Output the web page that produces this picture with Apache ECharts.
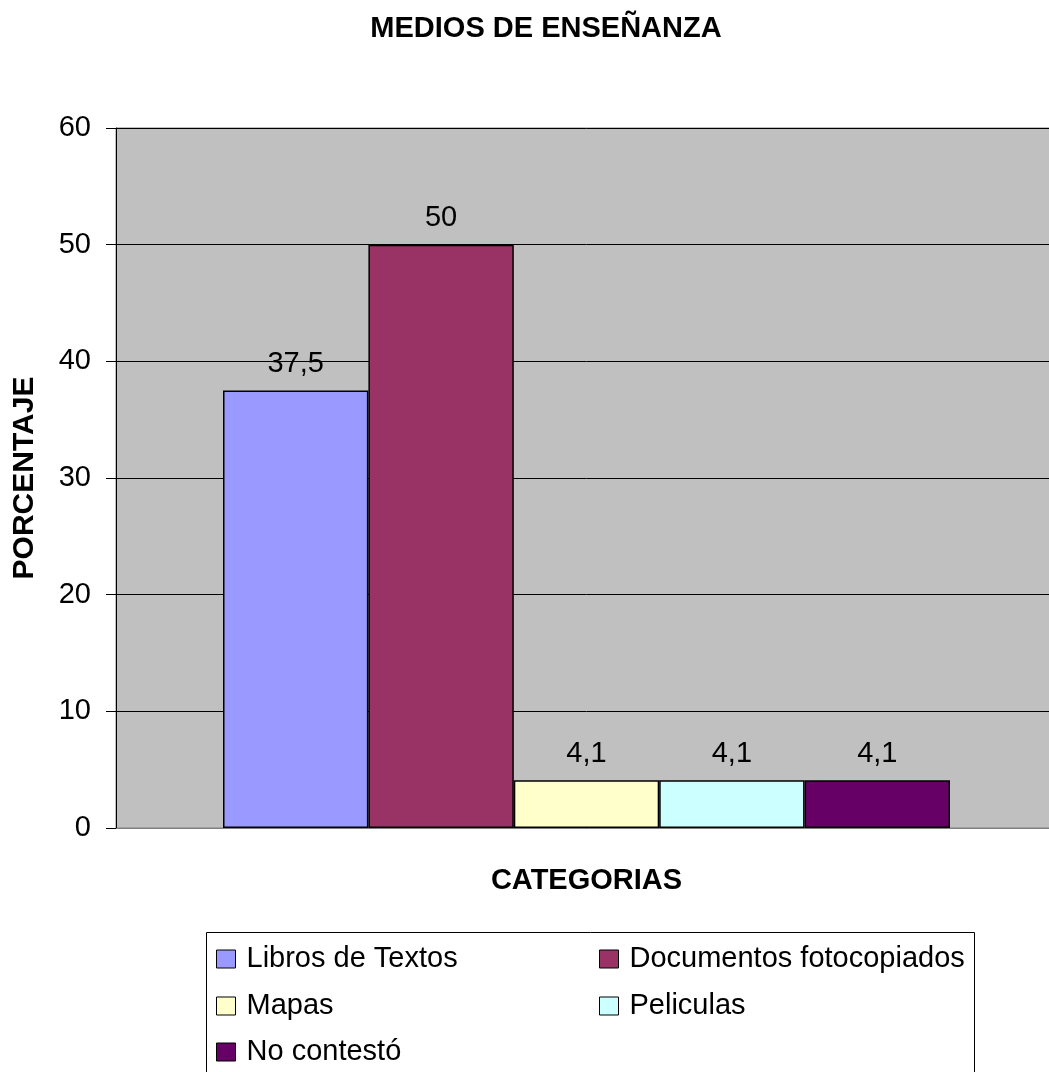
<!DOCTYPE html>
<html>
<head>
<meta charset="utf-8">
<title>Medios de enseñanza</title>
<script src="https://cdn.jsdelivr.net/npm/echarts@6/dist/echarts.min.js"></script>
<style>
  html, body { margin: 0; padding: 0; background: #fff; overflow: hidden; }
  /* the plot area runs a little past the right edge of the picture */
  #chart { width: 1057px; height: 1072px; }
</style>
</head>
<body>
<div id="chart"></div>
<script>
// data
var categories = ['']
var seriesNames = ['Libros de Textos', 'Documentos fotocopiados', 'Mapas', 'Peliculas', 'No contestó']
var seriesValues = [37.5, 50, 4.1, 4.1, 4.1]
var seriesColors = ['#9999FF', '#993366', '#FFFFCC', '#CCFFFF', '#660066']
var yTicks = [0, 10, 20, 30, 40, 50, 60]

var font = 'Liberation Sans, Arial, sans-serif'

// legend slots: two columns, three rows (like the excel box)
var legendCols = [216, 599]
var legendRows = [944, 991, 1037]

var chart = echarts.init(document.getElementById('chart'))

var series = seriesNames.map(function (name, i) {
  return {
    name: name,
    type: 'bar',
    barGap: '0%',
    barWidth: 145.4,
    itemStyle: { color: seriesColors[i], borderColor: '#000', borderWidth: 1.5 },
    label: {
      show: true,
      position: 'top',
      distance: 12,
      color: '#000',
      fontFamily: font,
      fontSize: 29,
      formatter: function (p) { return String(p.value).replace('.', ',') }
    },
    data: [seriesValues[i]]
  }
})

var legends = seriesNames.map(function (name, i) {
  return {
    left: legendCols[i % 2],
    top: legendRows[Math.floor(i / 2)],
    padding: 0,
    icon: 'rect',
    itemWidth: 19,
    itemHeight: 18,
    itemStyle: { borderColor: '#000', borderWidth: 1 },
    textStyle: { fontFamily: font, fontSize: 29, color: '#000', lineHeight: 30, padding: [0, 0, 0, 6] },
    data: [name]
  }
})

chart.setOption({
  animation: false,
  title: {
    text: 'MEDIOS DE ENSEÑANZA',
    left: 541,
    textAlign: 'center',
    top: 9,
    textStyle: { fontFamily: font, fontSize: 29, fontWeight: 'bold', color: '#000' }
  },
  grid: {
    left: 116,
    right: 0,
    top: 128,
    bottom: 244,
    show: true,
    backgroundColor: '#C0C0C0',
    borderColor: '#808080',
    borderWidth: 1
  },
  legend: legends,
  graphic: [
    {
      type: 'rect',
      shape: { x: 206.5, y: 932.5, width: 768, height: 200 },
      style: { fill: 'none', stroke: '#000', lineWidth: 1 },
      silent: true
    }
  ],
  xAxis: {
    type: 'category',
    data: categories,
    name: 'CATEGORIAS',
    nameLocation: 'middle',
    nameGap: 38,
    nameTextStyle: { fontFamily: font, fontSize: 29, fontWeight: 'bold', color: '#000' },
    axisLine: { show: true, lineStyle: { color: '#808080', width: 1 } },
    axisTick: { show: false },
    axisLabel: { show: false }
  },
  yAxis: {
    type: 'value',
    min: 0,
    max: 60,
    interval: 10,
    name: 'PORCENTAJE',
    nameLocation: 'middle',
    nameGap: 76,
    nameTextStyle: { fontFamily: font, fontSize: 30, fontWeight: 'bold', color: '#000' },
    axisLine: { show: true, lineStyle: { color: '#000', width: 1 } },
    axisTick: { show: true, length: 10, lineStyle: { color: '#000' } },
    axisLabel: {
      fontFamily: font,
      fontSize: 29,
      color: '#000',
      margin: 25,
      formatter: function (v) { return yTicks.indexOf(v) >= 0 ? String(v) : '' }
    },
    splitLine: { show: true, lineStyle: { color: '#000', width: 1 } }
  },
  series: series
})
</script>
</body>
</html>
